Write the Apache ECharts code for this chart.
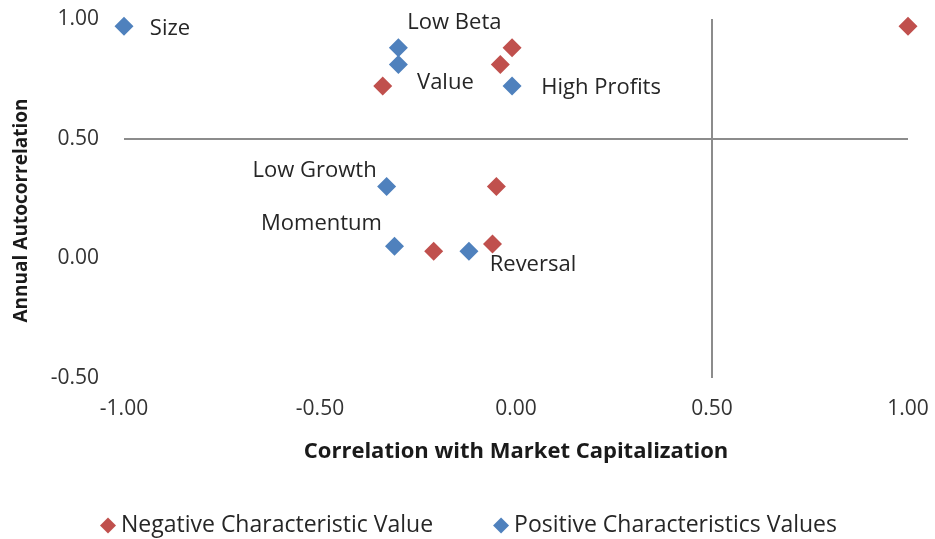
<!DOCTYPE html>
<html>
<head>
<meta charset="utf-8">
<script src="https://cdn.jsdelivr.net/npm/echarts@6/dist/echarts.min.js"></script>
<style>
  html, body { margin: 0; padding: 0; background: #fff; }
  #chart { width: 935px; height: 539px; }
</style>
</head>
<body>
<div id="chart"></div>
<script>
// positive characteristic values (blue), with their factor names
const posNames = ['Size', 'Low Beta', 'Value', 'High Profits', 'Low Growth', 'Momentum', 'Reversal']
const posX = [-1.00, -0.30, -0.30, -0.01, -0.33, -0.31, -0.12]
const posY = [0.97, 0.88, 0.81, 0.72, 0.30, 0.05, 0.03]

// negative characteristic values (red)
const negX = [1.00, -0.34, -0.01, -0.04, -0.05, -0.21, -0.06]
const negY = [0.97, 0.72, 0.88, 0.81, 0.30, 0.03, 0.06]

const xTicks = [-1.00, -0.50, 0.00, 0.50, 1.00]
const yTicks = [-0.50, 0.00, 0.50, 1.00]
const crossAt = 0.5 // where the two reference axes cross

const FONT = '"Open Sans", sans-serif'

// label placement around each point (centre offset in px)
const labelOffsets = {
  'Size': [46, 3],
  'Low Beta': [56, -25],
  'Value': [47, 18],
  'High Profits': [89, 2],
  'Low Growth': [-72, -16],
  'Momentum': [-73, -23],
  'Reversal': [64, 14]
}

const chart = echarts.init(document.getElementById('chart'))

chart.setOption({
  animation: false,
  backgroundColor: '#fff',
  grid: {
    left: 124,
    right: 27,
    top: 19,
    bottom: 161
  },
  legend: {
    left: 95,
    top: 509,
    icon: 'diamond',
    itemWidth: 16,
    itemHeight: 16,
    itemGap: 60,
    textStyle: { fontFamily: FONT, fontSize: 23, color: '#262626' },
    data: ['Negative Characteristic Value', 'Positive Characteristics Values']
  },
  xAxis: {
    type: 'value',
    min: xTicks[0],
    max: xTicks[xTicks.length - 1],
    interval: 0.5,
    name: 'Correlation with Market Capitalization',
    nameLocation: 'middle',
    nameGap: 63,
    nameTextStyle: { fontFamily: FONT, fontSize: 22, fontWeight: 'bold', color: '#1a1a1a' },
    axisLine: { show: false },
    axisTick: { show: false },
    splitLine: { show: false },
    axisLabel: {
      margin: 21,
      fontFamily: FONT,
      fontSize: 21,
      color: '#333',
      formatter: v => v.toFixed(2)
    }
  },
  yAxis: {
    type: 'value',
    min: yTicks[0],
    max: yTicks[yTicks.length - 1],
    interval: 0.5,
    name: 'Annual Autocorrelation',
    nameLocation: 'middle',
    nameGap: 93,
    nameTextStyle: {
      fontFamily: FONT, fontSize: 19, fontWeight: 'bold', color: '#1a1a1a',
      padding: [0, 24, 0, 0]
    },
    axisLine: { show: false },
    axisTick: { show: false },
    splitLine: { show: false },
    axisLabel: {
      margin: 25,
      fontFamily: FONT,
      fontSize: 21,
      color: '#333',
      formatter: v => v.toFixed(2)
    }
  },
  series: [{
    name: 'Negative Characteristic Value',
    type: 'scatter',
    symbol: 'diamond',
    symbolSize: 19,
    itemStyle: { color: '#C0504D', opacity: 1 },
    data: negX.map((x, i) => [x, negY[i]]),
    z: 3
  }, {
    name: 'Positive Characteristics Values',
    type: 'scatter',
    symbol: 'diamond',
    symbolSize: 19,
    itemStyle: { color: '#4F81BD', opacity: 1 },
    data: posX.map((x, i) => ({
      value: [x, posY[i]],
      name: posNames[i],
      label: {
        show: true,
        position: 'inside',
        align: 'center',
        verticalAlign: 'middle',
        offset: labelOffsets[posNames[i]],
        formatter: '{b}',
        fontFamily: FONT,
        fontSize: 22,
        color: '#262626'
      }
    })),
    markLine: {
      silent: true,
      symbol: 'none',
      label: { show: false },
      lineStyle: { color: '#8c8c8c', width: 2, type: 'solid' },
      data: [{ yAxis: crossAt }, { xAxis: crossAt }]
    },
    z: 4
  }]
})
</script>
</body>
</html>
